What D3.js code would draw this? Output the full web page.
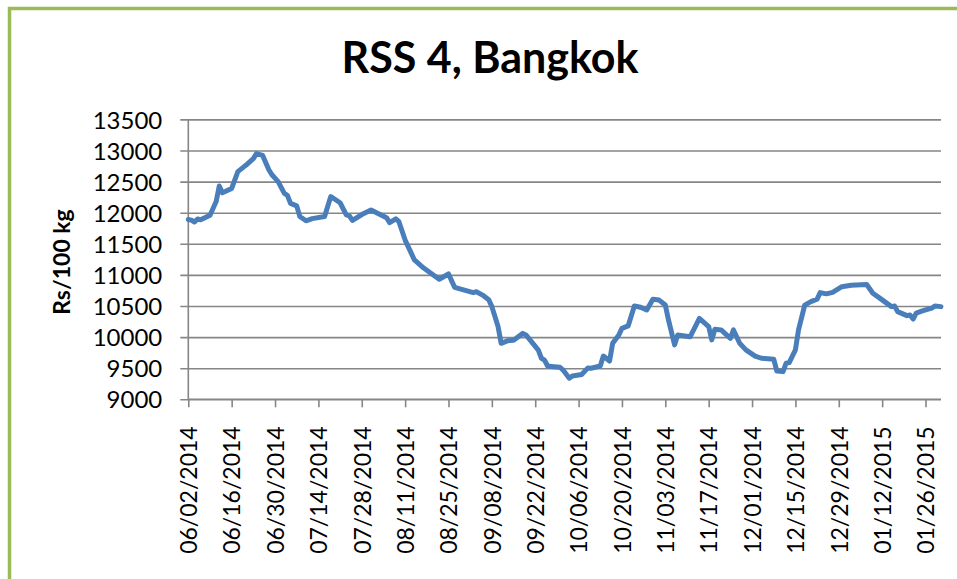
<!DOCTYPE html>
<html>
<head>
<meta charset="utf-8">
<script src="https://cdn.jsdelivr.net/npm/d3@7"></script>
<style>
  body { margin: 0; background: #fff; }
  text { font-family: Lato, "Liberation Sans", sans-serif; fill: #000; }
</style>
</head>
<body>
<div id="container"></div>
<script>
// RSS 4 prices, Rs/100 kg
var dates = [
  "2014-06-02","2014-06-03","2014-06-04","2014-06-05","2014-06-06","2014-06-09","2014-06-11","2014-06-12",
  "2014-06-13","2014-06-16","2014-06-18","2014-06-20","2014-06-21","2014-06-23","2014-06-24","2014-06-26",
  "2014-06-28","2014-06-29","2014-07-01","2014-07-03","2014-07-04","2014-07-05","2014-07-07","2014-07-08",
  "2014-07-10","2014-07-12","2014-07-16","2014-07-18","2014-07-21","2014-07-23","2014-07-24","2014-07-25",
  "2014-07-28","2014-07-31","2014-08-05","2014-08-06","2014-08-08","2014-08-09","2014-08-11","2014-08-14",
  "2014-08-17","2014-08-22","2014-08-25","2014-08-27","2014-08-29","2014-09-02","2014-09-03","2014-09-05",
  "2014-09-07","2014-09-08","2014-09-10","2014-09-11","2014-09-13","2014-09-15","2014-09-18","2014-09-19",
  "2014-09-23","2014-09-24","2014-09-25","2014-09-26","2014-09-28","2014-09-30","2014-10-01","2014-10-03",
  "2014-10-04","2014-10-07","2014-10-09","2014-10-10","2014-10-13","2014-10-14","2014-10-16","2014-10-17",
  "2014-10-19","2014-10-20","2014-10-22","2014-10-24","2014-10-26","2014-10-28","2014-10-30","2014-11-01",
  "2014-11-03","2014-11-04","2014-11-06","2014-11-07","2014-11-11","2014-11-14","2014-11-17","2014-11-18",
  "2014-11-19","2014-11-21","2014-11-24","2014-11-25","2014-11-27","2014-11-29","2014-12-02","2014-12-04",
  "2014-12-08","2014-12-09","2014-12-11","2014-12-12","2014-12-13","2014-12-15","2014-12-16","2014-12-18",
  "2014-12-20","2014-12-22","2014-12-23","2014-12-25","2014-12-27","2014-12-30","2015-01-02","2015-01-07",
  "2015-01-09","2015-01-11","2015-01-15","2015-01-16","2015-01-17","2015-01-20","2015-01-21","2015-01-22",
  "2015-01-23","2015-01-25","2015-01-28","2015-01-29","2015-01-31"
]

var prices = [
  11890,11880,11850,11900,11885,11960,12180,12430,
  12320,12390,12660,12740,12780,12870,12950,12920,
  12690,12610,12500,12310,12280,12150,12110,11940,
  11870,11905,11940,12260,12160,11965,11950,11875,
  11970,12045,11920,11840,11900,11855,11560,11240,
  11110,10930,11015,10800,10770,10715,10730,10675,
  10600,10490,10170,9900,9940,9950,10060,10035,
  9790,9660,9630,9535,9525,9515,9470,9340,
  9375,9400,9505,9500,9535,9695,9615,9900,
  10035,10140,10180,10500,10480,10435,10610,10595,
  10515,10280,9875,10035,10005,10300,10170,9955,
  10125,10115,9980,10115,9900,9795,9695,9660,
  9645,9455,9445,9580,9590,9795,10115,10515,
  10570,10610,10715,10695,10720,10810,10835,10845,
  10705,10635,10490,10500,10410,10345,10355,10290,
  10385,10420,10465,10500,10490
]

var xTicks = [
  "2014-06-02","2014-06-16","2014-06-30","2014-07-14","2014-07-28","2014-08-11",
  "2014-08-25","2014-09-08","2014-09-22","2014-10-06","2014-10-20","2014-11-03",
  "2014-11-17","2014-12-01","2014-12-15","2014-12-29","2015-01-12","2015-01-26"
]
var yTicks = [9000, 9500, 10000, 10500, 11000, 11500, 12000, 12500, 13000, 13500]

var title = "RSS 4, Bangkok",
    yTitle = "Rs/100 kg"

var parse = d3.utcParse("%Y-%m-%d"),
    fmt = d3.utcFormat("%m/%d/%Y")

var series = dates.map(function(d, i) { return { date: parse(d), value: prices[i] } })

var svg_width = 957, svg_height = 579

// plot box
var plot_left = 188.3, plot_right = 941,
    plot_top = 119.4, plot_bottom = 399.3

var x = d3.scaleUtc()
    .domain([parse("2014-06-02"), parse("2015-01-31")])
    .range([plot_left, plot_right])

var y = d3.scaleLinear()
    .domain([9000, 13500])
    .range([plot_bottom, plot_top])

var svg = d3.select("#container").append("svg")
    .attr("width", svg_width)
    .attr("height", svg_height)

// green chart frame (right / bottom edges fall outside the picture)
svg.append("rect")
    .attr("x", 9.5)
    .attr("y", 8.5)
    .attr("width", 1000)
    .attr("height", 700)
    .style("fill", "none")
    .style("stroke", "#9bbb59")
    .style("stroke-width", 3.5)

svg.append("text")
    .attr("x", 490)
    .attr("y", 73)
    .attr("text-anchor", "middle")
    .style("font-size", "43px")
    .style("font-weight", "bold")
    .text(title)

// horizontal gridlines + y axis
var yAxis = d3.axisLeft(y)
    .tickValues(yTicks)
    .tickFormat(d3.format("d"))
    .tickSize(-(plot_right - plot_left))
    .tickSizeOuter(0)
    .tickPadding(0)

var gy = svg.append("g")
    .attr("transform", "translate(" + plot_left + ",0)")
    .call(yAxis)

gy.select(".domain").remove()
gy.selectAll(".tick line")
    .attr("x1", -8)
    .style("stroke", "#868686")
    .style("stroke-width", 1.6)
gy.selectAll(".tick text")
    .attr("x", -26)
    .attr("dy", "0.36em")
    .style("font-size", "24px")
    .style("font-family", "Lato, sans-serif")

svg.append("line")
    .attr("x1", plot_left).attr("x2", plot_left)
    .attr("y1", plot_top).attr("y2", plot_bottom)
    .style("stroke", "#868686")
    .style("stroke-width", 1.6)

// x axis
var xAxis = d3.axisBottom(x)
    .tickValues(xTicks.map(parse))
    .tickFormat(fmt)
    .tickSize(8)
    .tickSizeOuter(0)

var gx = svg.append("g")
    .attr("transform", "translate(0," + plot_bottom + ")")
    .call(xAxis)

gx.select(".domain")
    .style("stroke", "#868686")
    .style("stroke-width", 1.6)
    .attr("d", "M" + plot_left + ",0H" + plot_right)
gx.selectAll(".tick line")
    .style("stroke", "#868686")
    .style("stroke-width", 1.6)
gx.selectAll(".tick text")
    .attr("transform", "rotate(-90)")
    .attr("text-anchor", "end")
    .attr("x", -27)
    .attr("y", 0)
    .attr("dy", "0.36em")
    .style("font-size", "23px")
    .style("font-family", "Lato, sans-serif")

svg.append("text")
    .attr("transform", "translate(70,262) rotate(-90)")
    .attr("text-anchor", "middle")
    .style("font-size", "23px")
    .style("font-weight", "bold")
    .text(yTitle)

var line = d3.line()
    .x(function(d) { return x(d.date) })
    .y(function(d) { return y(d.value) })

svg.append("path")
    .datum(series)
    .attr("d", line)
    .style("fill", "none")
    .style("stroke", "#4a7ebb")
    .style("stroke-width", 5)
    .style("stroke-linejoin", "round")
    .style("stroke-linecap", "round")
</script>
</body>
</html>
